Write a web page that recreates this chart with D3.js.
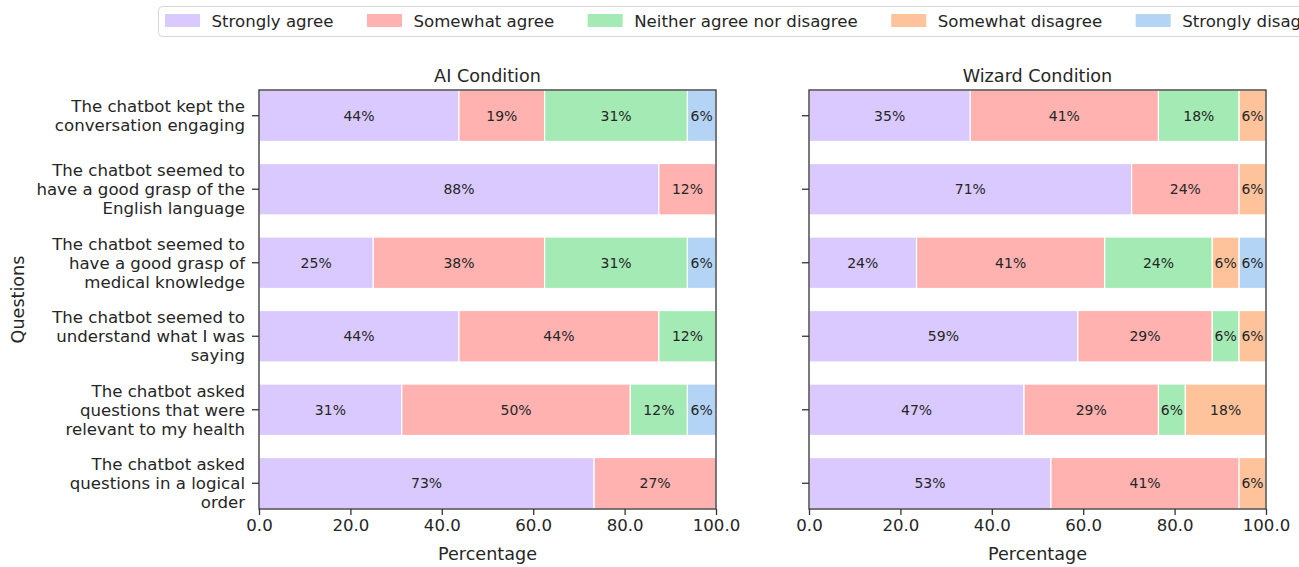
<!DOCTYPE html>
<html>
<head>
<meta charset="utf-8">
<script src="https://cdnjs.cloudflare.com/ajax/libs/d3/7.8.5/d3.min.js"></script>
<style>
  body { margin: 0; background: #fff; }
  text { font-family: "DejaVu Sans", sans-serif; fill: #262626; }
</style>
</head>
<body>
<svg id="chart" width="1299" height="567"></svg>
<script>
var questions = [
  "The chatbot kept the|conversation engaging",
  "The chatbot seemed to|have a good grasp of the|English language",
  "The chatbot seemed to|have a good grasp of|medical knowledge",
  "The chatbot seemed to|understand what I was|saying",
  "The chatbot asked|questions that were|relevant to my health",
  "The chatbot asked|questions in a logical|order"
];
var responses = ["Strongly agree", "Somewhat agree", "Neither agree nor disagree", "Somewhat disagree", "Strongly disagree"];
var colours = ["#d0bbff", "#ff9f9b", "#8de5a1", "#ffb482", "#a1c9f4"];

// percentages per question, one column per response
var aiValues = [
  [43.75, 18.75, 31.25, 0, 6.25],
  [87.5, 12.5, 0, 0, 0],
  [25, 37.5, 31.25, 0, 6.25],
  [43.75, 43.75, 12.5, 0, 0],
  [31.25, 50, 12.5, 0, 6.25],
  [73.33, 26.67, 0, 0, 0]
];
var wizardValues = [
  [35.29, 41.18, 17.65, 5.88, 0],
  [70.59, 23.53, 0, 5.88, 0],
  [23.53, 41.18, 23.53, 5.88, 5.88],
  [58.82, 29.41, 5.88, 5.88, 0],
  [47.06, 29.41, 5.88, 17.65, 0],
  [52.94, 41.18, 0, 5.88, 0]
];
var xTicks = [0, 20, 40, 60, 80, 100];

var svg = d3.select("#chart");
var plotTop = 90, plotBottom = 509;

// round half to even like python
function roundEven(v) {
  var f = Math.floor(v), d = v - f;
  if (Math.abs(d - 0.5) < 1e-9) return (f % 2 === 0) ? f : f + 1;
  return Math.round(v);
}

var drawPanel = function(values, left, right, title, showLabels)
{
  var xScale = d3.scaleLinear().domain([0, 100]).range([left, right]);
  var yScale = d3.scaleBand().domain(d3.range(questions.length))
                 .range([plotTop, plotBottom]).paddingInner(0.3).paddingOuter(0);

  var g = svg.append("g");

  values.forEach(function(row, i) {
    var start = 0;
    row.forEach(function(v, j) {
      if (v > 0) {
        g.append("rect")
          .attr("x", xScale(start))
          .attr("y", yScale(i))
          .attr("width", xScale(start + v) - xScale(start))
          .attr("height", yScale.bandwidth())
          .attr("fill", colours[j])
          .attr("fill-opacity", 0.8)
          .attr("stroke", "#fff")
          .attr("stroke-width", 1.2);
        g.append("text")
          .attr("x", xScale(start + v / 2))
          .attr("y", yScale(i) + yScale.bandwidth() / 2)
          .attr("dy", "0.36em")
          .attr("text-anchor", "middle")
          .attr("font-size", "14px")
          .text(roundEven(v) + "%");
      }
      start += v;
    });
  });

  // frame
  g.append("rect")
    .attr("x", left).attr("y", plotTop)
    .attr("width", right - left).attr("height", plotBottom - plotTop)
    .attr("fill", "none").attr("stroke", "#333").attr("stroke-width", 1.3);

  var xAxis = d3.axisBottom(xScale).tickValues(xTicks)
                .tickFormat(d3.format(".1f")).tickSizeInner(6).tickSizeOuter(0).tickPadding(4);
  var ax = svg.append("g").attr("transform", "translate(0," + plotBottom + ")").call(xAxis);
  ax.select(".domain").remove();
  ax.selectAll("line").attr("stroke", "#333").attr("stroke-width", 1.3);
  ax.selectAll("text").attr("font-size", "16.6px").attr("fill", "#262626").attr("font-family", "DejaVu Sans");

  var yAxis = d3.axisLeft(yScale).tickSizeInner(7).tickSizeOuter(0).tickFormat("");
  var ay = svg.append("g").attr("transform", "translate(" + left + ",0)").call(yAxis);
  ay.select(".domain").remove();
  ay.selectAll("line").attr("stroke", "#333").attr("stroke-width", 1.3);

  if (showLabels) {
    questions.forEach(function(q, i) {
      var lines = q.split("|");
      var yc = yScale(i) + yScale.bandwidth() / 2;
      var t = svg.append("text")
        .attr("text-anchor", "end")
        .attr("font-size", "16.6px");
      lines.forEach(function(l, k) {
        t.append("tspan")
          .attr("x", left - 14)
          .attr("y", yc + 6 + (k - (lines.length - 1) / 2) * 19)
          .text(l);
      });
    });
  }

  svg.append("text")
    .attr("x", (left + right) / 2).attr("y", 82)
    .attr("text-anchor", "middle").attr("font-size", "17.6px")
    .text(title);

  svg.append("text")
    .attr("x", (left + right) / 2).attr("y", 560)
    .attr("text-anchor", "middle").attr("font-size", "17.6px")
    .text("Percentage");
}

drawPanel(aiValues, 259, 716, "AI Condition", true);
drawPanel(wizardValues, 809, 1266, "Wizard Condition", false);

svg.append("text")
  .attr("transform", "translate(24," + ((plotTop + plotBottom) / 2) + ") rotate(-90)")
  .attr("text-anchor", "middle").attr("font-size", "17.6px")
  .text("Questions");

// legend
var legend = svg.append("g");
legend.append("rect")
  .attr("x", 158.5).attr("y", 6.5).attr("width", 1200).attr("height", 30)
  .attr("rx", 4).attr("fill", "#fff").attr("stroke", "#d6d6d6").attr("stroke-width", 1);
var lx = 165;
responses.forEach(function(r, j) {
  legend.append("rect")
    .attr("x", lx).attr("y", 14).attr("width", 35).attr("height", 13)
    .attr("fill", colours[j]).attr("fill-opacity", 0.8);
  var t = legend.append("text")
    .attr("x", lx + 46.5).attr("y", 26.5)
    .attr("font-size", "16.6px")
    .text(r);
  lx = lx + 46.5 + t.node().getComputedTextLength() + 33.5;
});
</script>
</body>
</html>
